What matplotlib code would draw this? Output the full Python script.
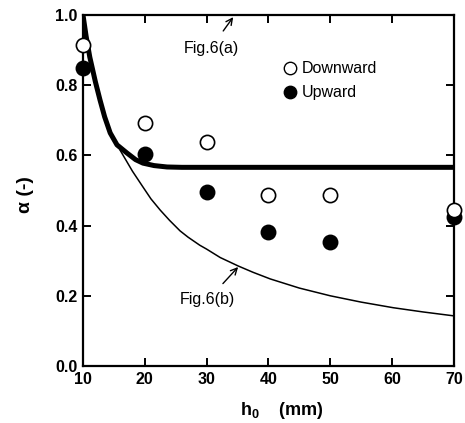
import numpy as np
import matplotlib.pyplot as plt

plt.rcParams['font.family'] = ['Liberation Sans', 'DejaVu Sans']
plt.rcParams['mathtext.fontset'] = 'custom'
plt.rcParams['mathtext.bf'] = 'Liberation Sans:bold'
plt.rcParams['mathtext.rm'] = 'Liberation Sans'

# measured points
h0 = [10, 20, 30, 40, 50, 70]
downward = [0.915, 0.692, 0.638, 0.486, 0.486, 0.444]
upward = [0.849, 0.604, 0.496, 0.382, 0.353, 0.425]

# Fig.6(a) curve (thick)
xa = [10, 10.5, 11.1, 12.0, 12.75, 13.5, 14.4, 15.5, 17.1, 18.5, 19.7, 21.5, 23.6, 26, 30, 40, 50, 60, 70]
ya = [1.0, 0.94, 0.88, 0.81, 0.758, 0.71, 0.664, 0.63, 0.607, 0.588, 0.578, 0.571, 0.567, 0.566, 0.566, 0.566, 0.566, 0.566, 0.566]

# Fig.6(b) curve (thin)
xb = [16, 17, 18, 19.7, 21, 22.5, 24, 25.7, 27, 28.9, 30, 32.2, 35.1, 37.5, 40.3, 45, 50, 55, 60.2, 65, 69.9]
yb = [0.615, 0.585, 0.555, 0.51, 0.476, 0.444, 0.415, 0.385, 0.367, 0.344, 0.333, 0.309, 0.285, 0.267, 0.248, 0.222, 0.2, 0.182, 0.166, 0.154, 0.143]

fig = plt.figure(figsize=(4.65, 4.23), dpi=100)
ax = fig.add_axes([0.1785, 0.1348, 0.7975, 0.8297])

ax.plot(xa, ya, color='black', lw=3.6, solid_capstyle='butt', zorder=3)
ax.plot(xb, yb, color='black', lw=1.1, zorder=2)

ax.scatter(h0, upward, s=105, facecolor='black', edgecolor='black', linewidth=1.2, zorder=4, clip_on=False)
ax.scatter(h0, downward, s=105, facecolor='white', edgecolor='black', linewidth=1.2, zorder=5, clip_on=False)

ax.set_xlim(10, 70)
ax.set_ylim(0, 1.0)
ax.set_xticks([10, 20, 30, 40, 50, 60, 70])
ax.set_yticks([0.0, 0.2, 0.4, 0.6, 0.8, 1.0])
ax.set_yticklabels(['0.0', '0.2', '0.4', '0.6', '0.8', '1.0'])
ax.tick_params(direction='in', length=6, width=1.4, top=True, right=True, labelsize=11.5, pad=4)
for lbl in ax.get_xticklabels() + ax.get_yticklabels():
    lbl.set_fontweight('bold')
for sp in ax.spines.values():
    sp.set_linewidth(1.6)

# legend drawn by hand
ax.scatter([43.5], [0.849], s=80, facecolor='white', edgecolor='black', linewidth=1.0, zorder=5)
ax.scatter([43.5], [0.78], s=80, facecolor='black', edgecolor='black', zorder=5)
ax.text(45.4, 0.849, 'Downward', fontsize=11.5, va='center', ha='left')
ax.text(45.4, 0.78, 'Upward', fontsize=11.5, va='center', ha='left')

ax.annotate('Fig.6(a)', xy=(34.3, 0.994), xytext=(30.7, 0.906), fontsize=11.5,
            ha='center', va='center',
            arrowprops=dict(arrowstyle='->', color='black', lw=1.0, shrinkA=6, shrinkB=0))
ax.annotate('Fig.6(b)', xy=(35.1, 0.282), xytext=(30.2, 0.188), fontsize=11.5,
            ha='center', va='center',
            arrowprops=dict(arrowstyle='->', color='black', lw=1.0, shrinkA=6, shrinkB=0))

fig.text(25 / 465, 1 - 195 / 423, 'α (-)', rotation=90, fontsize=14, fontweight='bold',
         ha='center', va='center')
fig.text(282 / 465, 1 - 410 / 423, r'$\mathbf{h_0}$    (mm)', fontsize=13, fontweight='bold',
         ha='center', va='center')

plt.savefig('out.png', dpi=100)
